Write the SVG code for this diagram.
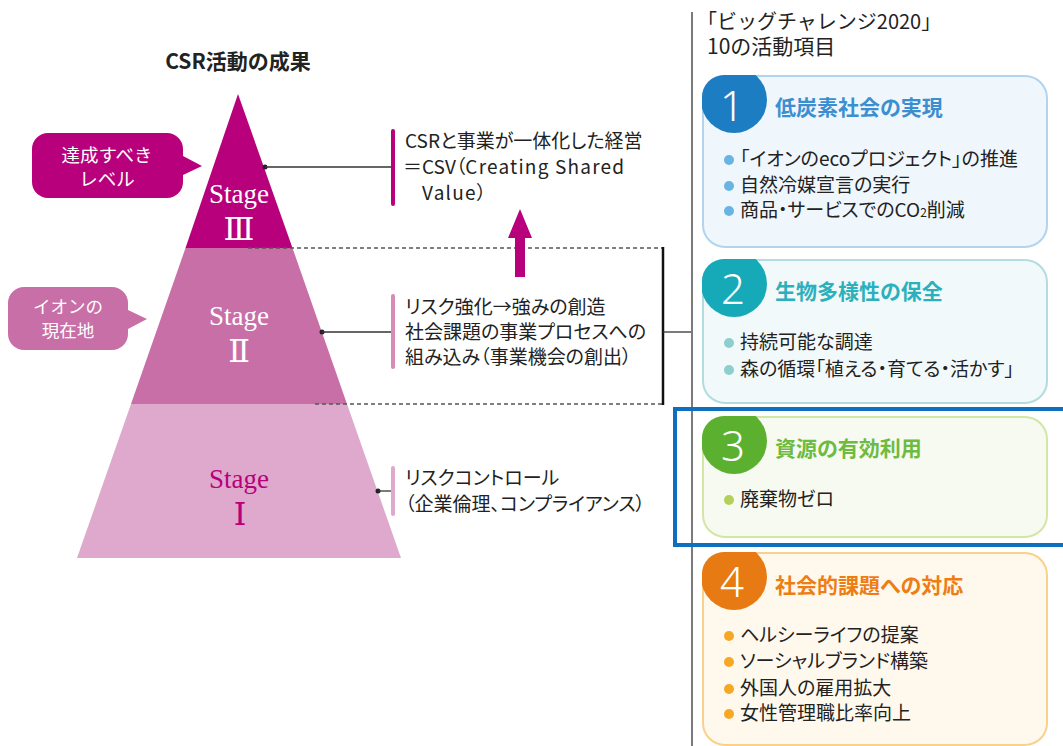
<svg xmlns="http://www.w3.org/2000/svg" width="1063" height="746" viewBox="0 0 1063 746">
<style>
text{font-family:"Noto Sans CJK JP","Noto Sans",sans-serif;}
.jp{font-size:19px;fill:#222;font-feature-settings:"palt";}
.body{font-size:19px;fill:#222;font-feature-settings:"palt";}
.stg{font-family:"Liberation Serif","DejaVu Serif",serif;font-size:27px;text-anchor:middle;}
.rom{font-family:"DejaVu Serif","Liberation Serif","Noto Sans CJK JP",serif;font-size:32px;text-anchor:middle;}
.num{font-family:"Noto Sans","DejaVu Sans",sans-serif;font-size:42px;fill:#fff;text-anchor:middle;font-weight:300;}
.ttl{font-size:21px;font-weight:bold;font-feature-settings:"palt";}
.bub{font-size:18.5px;fill:#fff;text-anchor:middle;}
.dash{stroke:#555;stroke-width:1.3;stroke-dasharray:4 3;fill:none;}
.ln{stroke:#333;stroke-width:1.3;fill:none;}
</style>
<defs>
<clipPath id="c1"><rect x="702" y="75" width="346" height="173" rx="22"/></clipPath>
<clipPath id="c2"><rect x="702" y="259" width="346" height="145" rx="22"/></clipPath>
<clipPath id="c3"><rect x="702" y="416" width="346" height="122" rx="22"/></clipPath>
<clipPath id="c4"><rect x="702" y="552" width="346" height="194" rx="22"/></clipPath>
</defs>

<text x="238" y="69" text-anchor="middle" style="font-size:21px;font-weight:bold;fill:#222;">CSR活動の成果</text>

<g id="stage1">
<polygon points="131,404 347,404 401,558 77,558" fill="#DEA9CC"/>
<text class="stg" x="239" y="488" fill="#B8007C">Stage</text>
<text class="rom" x="240" y="525" fill="#B8007C">Ⅰ</text>
</g>
<g id="stage2">
<polygon points="185.5,248 292.5,248 347,404 131,404" fill="#C96FA8"/>
<text class="stg" x="239" y="325" fill="#fff">Stage</text>
<text class="rom" x="239" y="362" fill="#fff">Ⅱ</text>
</g>
<g id="stage3">
<polygon points="238,94 292.5,248 185.5,248" fill="#B8007C"/>
<text class="stg" x="239" y="203" fill="#fff">Stage</text>
<text class="rom" x="239" y="240" fill="#fff">Ⅲ</text>
</g>

<g id="bubble-goal">
<path d="M48,133 H167 A16,16 0 0 1 183,149 V156 L202,166 L183,175 V182 A16,16 0 0 1 167,198 H48 A16,16 0 0 1 32,182 V149 A16,16 0 0 1 48,133 Z" fill="#B8007C"/>
<text class="bub" x="107" y="162">達成すべき</text>
<text class="bub" x="107" y="186">レベル</text>
</g>
<g id="bubble-now">
<path d="M24,287 H112 A16,16 0 0 1 128,303 V310 L147,319 L128,329 V334 A16,16 0 0 1 112,350 H24 A16,16 0 0 1 8,334 V303 A16,16 0 0 1 24,287 Z" fill="#C96FA8"/>
<text class="bub" x="68" y="313" style="font-size:17.5px">イオンの</text>
<text class="bub" x="68" y="337" style="font-size:17.5px">現在地</text>
</g>

<g id="connectors">
<circle cx="265" cy="167" r="2.5" fill="#222"/>
<line class="ln" x1="265" y1="167" x2="392" y2="167"/>
<circle cx="322" cy="332" r="2.5" fill="#222"/>
<line class="ln" x1="322" y1="332" x2="392" y2="332"/>
<circle cx="378" cy="491" r="2.5" fill="#222"/>
<line class="ln" x1="378" y1="491" x2="392" y2="491"/>
<line class="dash" x1="248" y1="248" x2="663" y2="248"/>
<line class="dash" x1="315" y1="404" x2="663" y2="404"/>
<line x1="663" y1="247" x2="663" y2="405" stroke="#111" stroke-width="2.5"/>
<line class="ln" x1="663" y1="332" x2="692" y2="332"/>
<polygon points="515,277 525,277 525,238 532,238 520,209 508,238 515,238" fill="#B8007C"/>
<line x1="692" y1="12" x2="692" y2="746" stroke="#7a7a7a" stroke-width="2"/>
</g>

<g id="result3">
<line x1="393" y1="131" x2="393" y2="204" stroke="#B8007C" stroke-width="4" stroke-linecap="round"/>
<text class="jp" x="405" y="148">CSRと事業が一体化した経営</text>
<text class="jp" x="403" y="174">＝CSV（<tspan style="letter-spacing:1.2px">Creating Shared</tspan></text>
<text class="jp" x="422" y="200"><tspan style="letter-spacing:1.2px">Value</tspan>）</text>
</g>
<g id="result2">
<line x1="393" y1="296" x2="393" y2="367" stroke="#D68BB9" stroke-width="4" stroke-linecap="round"/>
<text class="jp" x="405" y="314">リスク強化→強みの創造</text>
<text class="jp" x="405" y="339">社会課題の事業プロセスへの</text>
<text class="jp" x="405" y="364">組み込み（事業機会の創出）</text>
</g>
<g id="result1">
<line x1="393" y1="468" x2="393" y2="514" stroke="#DEA9CC" stroke-width="4" stroke-linecap="round"/>
<text class="jp" x="405" y="485">リスクコントロール</text>
<text class="jp" x="405" y="511">（企業倫理、コンプライアンス）</text>
</g>

<g id="header">
<text x="697" y="29" style="font-size:20px;fill:#222;">「ビッグチャレンジ2020」</text>
<text x="707" y="54" style="font-size:21px;fill:#222;">10の活動項目</text>
</g>

<g id="panel1">
<rect x="703" y="76" width="344" height="171" rx="22" fill="#EFF6FC" stroke="#B3D4EE" stroke-width="2"/>
<circle cx="734" cy="100" r="33" fill="#1D7DC2" clip-path="url(#c1)"/>
<text class="num" x="732" y="121">1</text>
<text class="ttl" x="775" y="115" fill="#3B8FD1">低炭素社会の実現</text>
<circle cx="729" cy="160" r="5" fill="#6AB4E2"/>
<circle cx="729" cy="186" r="5" fill="#6AB4E2"/>
<circle cx="729" cy="211" r="5" fill="#6AB4E2"/>
<text class="body" x="740" y="166">「イオンのecoプロジェクト」の推進</text>
<text class="body" x="740" y="192">自然冷媒宣言の実行</text>
<text class="body" x="740" y="217">商品・サービスでのCO<tspan style="font-size:12px">2</tspan>削減</text>
</g>

<g id="panel2">
<rect x="703" y="260" width="344" height="143" rx="22" fill="#F2F9FA" stroke="#B2DCDF" stroke-width="2"/>
<circle cx="734" cy="284" r="33" fill="#16A9B7" clip-path="url(#c2)"/>
<text class="num" x="733" y="304">2</text>
<text class="ttl" x="775" y="299" fill="#2CB0BC">生物多様性の保全</text>
<circle cx="729" cy="343" r="5" fill="#8CCFCD"/>
<circle cx="729" cy="370" r="5" fill="#8CCFCD"/>
<text class="body" x="740" y="349">持続可能な調達</text>
<text class="body" x="740" y="376">森の循環「植える・育てる・活かす」</text>
</g>

<g id="panel3">
<rect x="703" y="417" width="344" height="120" rx="22" fill="#F7FAF0" stroke="#D2E6A6" stroke-width="2"/>
<circle cx="734" cy="441" r="33" fill="#5CB030" clip-path="url(#c3)"/>
<text class="num" x="733" y="461">3</text>
<text class="ttl" x="775" y="456" fill="#6DBB40">資源の有効利用</text>
<circle cx="729" cy="500" r="5" fill="#B5D05A"/>
<text class="body" x="740" y="506">廃棄物ゼロ</text>
</g>

<g id="panel4">
<rect x="703" y="553" width="344" height="192" rx="22" fill="#FFF8EC" stroke="#F9D08C" stroke-width="2"/>
<circle cx="734" cy="577" r="33" fill="#E77A12" clip-path="url(#c4)"/>
<text class="num" x="732" y="597">4</text>
<text class="ttl" x="775" y="593" fill="#EE7D14">社会的課題への対応</text>
<circle cx="729" cy="636" r="5" fill="#F6A824"/>
<circle cx="729" cy="662" r="5" fill="#F6A824"/>
<circle cx="729" cy="689" r="5" fill="#F6A824"/>
<circle cx="729" cy="714" r="5" fill="#F6A824"/>
<text class="body" x="740" y="642">ヘルシーライフの提案</text>
<text class="body" x="740" y="668">ソーシャルブランド構築</text>
<text class="body" x="740" y="695">外国人の雇用拡大</text>
<text class="body" x="740" y="720">女性管理職比率向上</text>
</g>

<g id="highlight">
<rect x="675" y="409" width="400" height="136" fill="none" stroke="#0F6FBF" stroke-width="4"/>
</g>
</svg>
